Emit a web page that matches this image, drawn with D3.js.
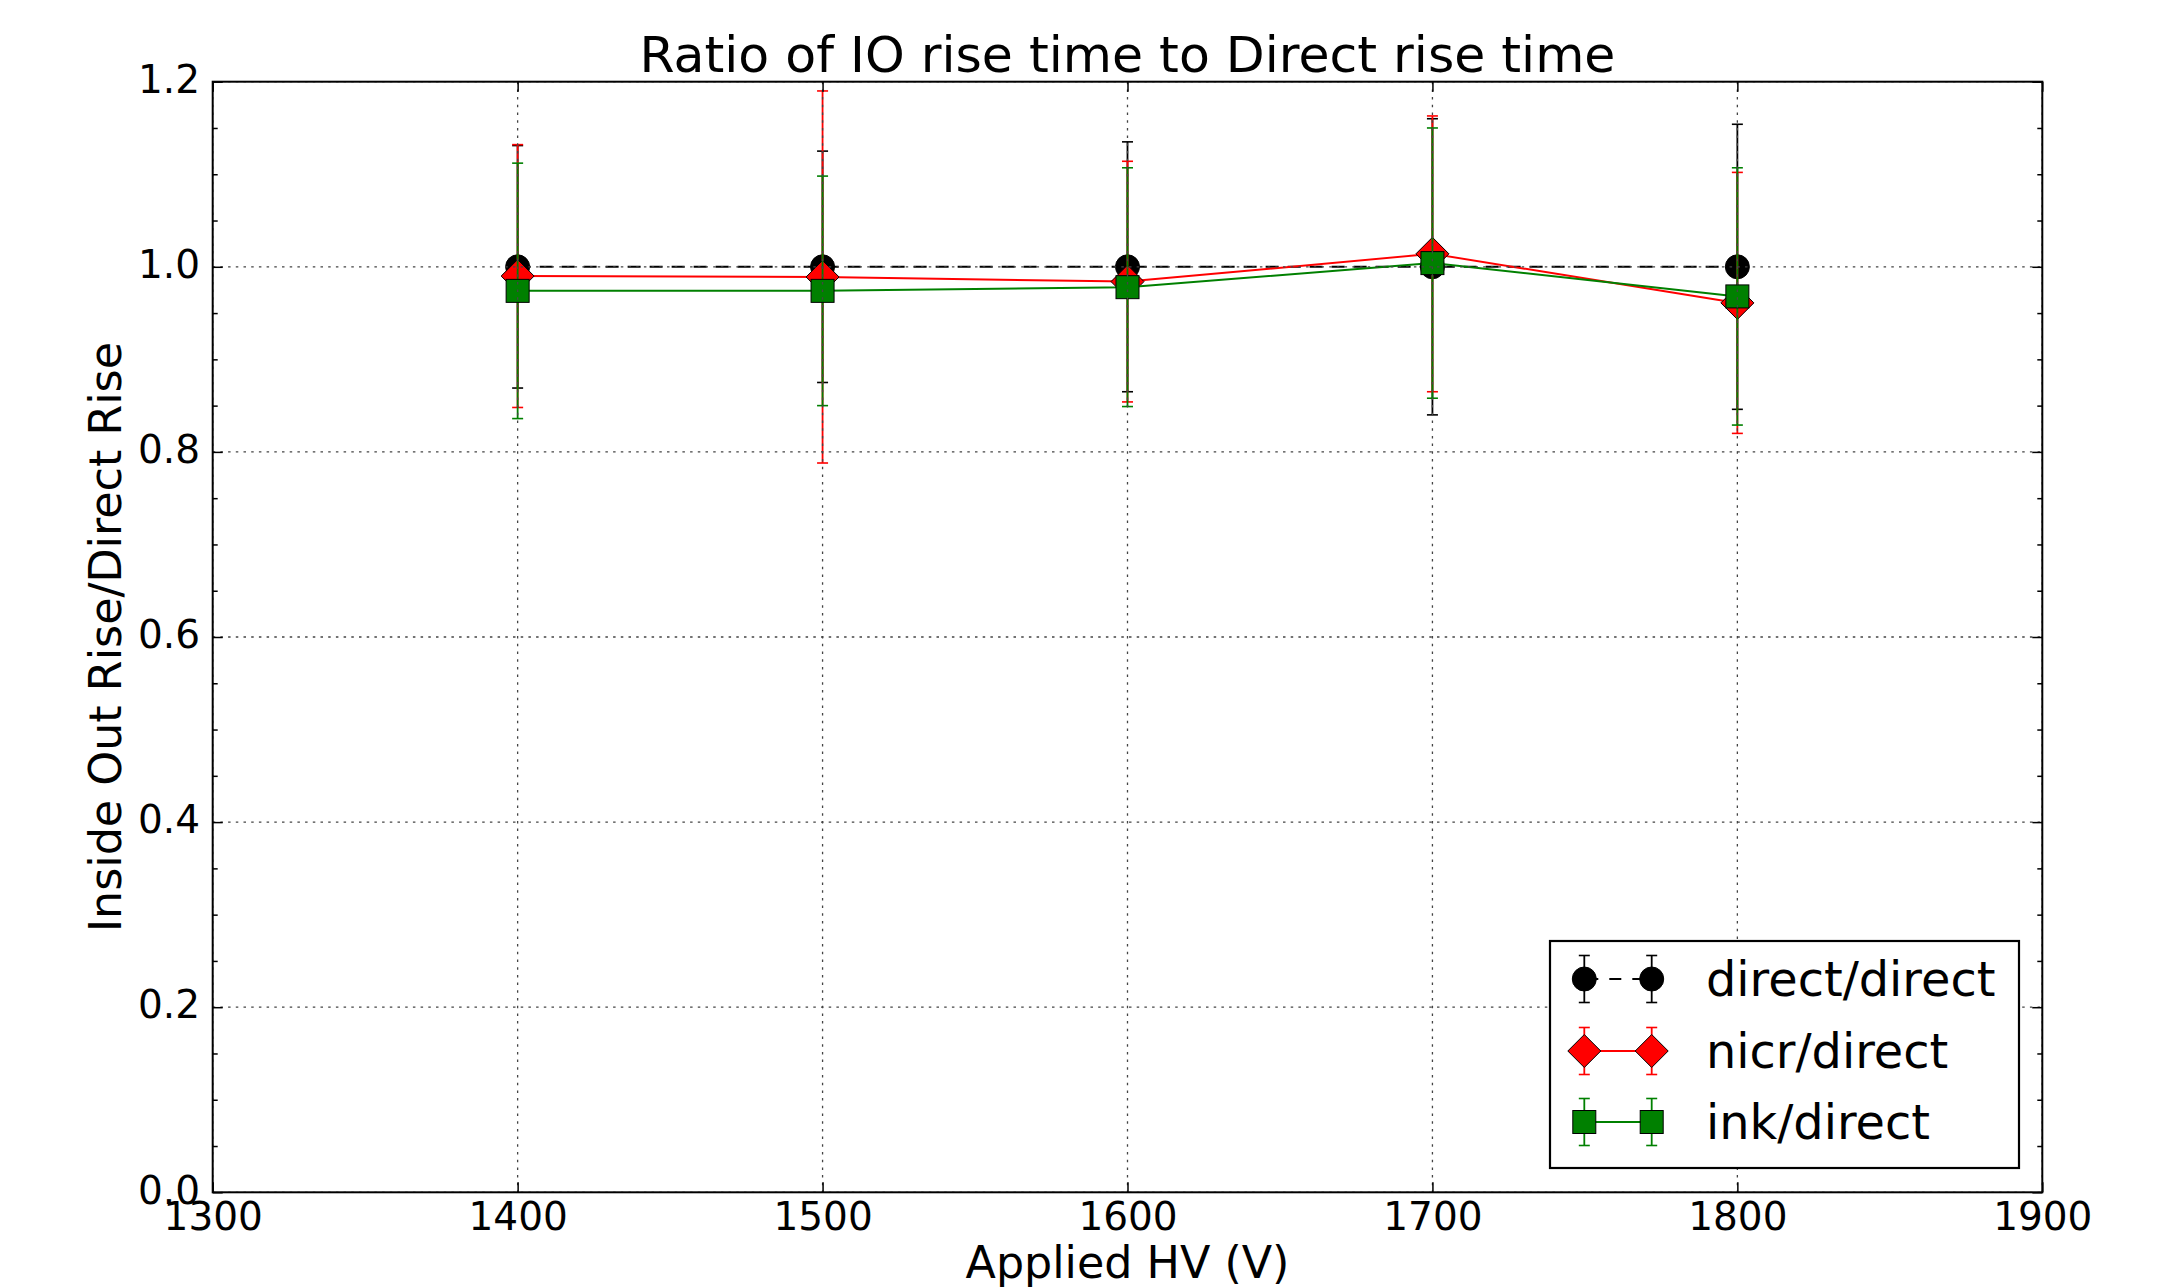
<!DOCTYPE html>
<html>
<head>
<meta charset="utf-8">
<script src="https://cdn.jsdelivr.net/npm/d3@7/dist/d3.min.js"></script>
<style>
  html, body { margin: 0; padding: 0; background: #fff; }
  svg { display: block; font-family: "DejaVu Sans", sans-serif; }
</style>
</head>
<body>
<svg id="chart" width="2159" height="1288"></svg>
<script>
// ---- data ----
const voltages = [1400, 1500, 1600, 1700, 1800];
const directVals = [1.0, 1.0, 1.0, 1.0, 1.0];
const directErr = [0.131, 0.125, 0.135, 0.160, 0.154];
const nicrVals = [0.990, 0.989, 0.984, 1.014, 0.961];
const nicrErr = [0.142, 0.201, 0.130, 0.149, 0.141];
const inkVals = [0.974, 0.974, 0.978, 1.004, 0.968];
const inkErr = [0.138, 0.124, 0.129, 0.146, 0.139];
const xTicks = [1300, 1400, 1500, 1600, 1700, 1800, 1900];
const yTicks = [0.0, 0.2, 0.4, 0.6, 0.8, 1.0, 1.2];
const seriesNames = ["direct/direct", "nicr/direct", "ink/direct"];

const series = [
  {name: seriesNames[0], vals: directVals, err: directErr, color: "#000000", marker: "circle", dash: "13,9"},
  {name: seriesNames[1], vals: nicrVals, err: nicrErr, color: "#ff0000", marker: "diamond", dash: null},
  {name: seriesNames[2], vals: inkVals, err: inkErr, color: "#008000", marker: "square", dash: null}
];

const L = 212.7, R = 2042.3, T = 81.7, B = 1192.3;
const svg = d3.select("#chart");
const x = d3.scaleLinear().domain([1300, 1900]).range([L, R]);
const y = d3.scaleLinear().domain([0, 1.2]).range([B, T]);

// markers
function drawMarker(g, type, cx, cy, fill) {
  if (type === "circle") {
    g.append("circle").attr("cx", cx).attr("cy", cy).attr("r", 12)
      .attr("fill", fill).attr("stroke", "#000").attr("stroke-width", 1);
  } else if (type === "diamond") {
    const h = 16.5;
    g.append("path").attr("d", `M${cx},${cy-h}L${cx+h},${cy}L${cx},${cy+h}L${cx-h},${cy}Z`)
      .attr("fill", fill).attr("stroke", "#000").attr("stroke-width", 1);
  } else {
    const s = 11.5;
    g.append("rect").attr("x", cx - s).attr("y", cy - s).attr("width", 2*s).attr("height", 2*s)
      .attr("fill", fill).attr("stroke", "#000").attr("stroke-width", 1);
  }
}

const dataG = svg.append("g");
series.forEach(s => {
  const g = dataG.append("g");
  // error bars
  voltages.forEach((v, i) => {
    const cx = x(v), y1 = y(s.vals[i] + s.err[i]), y0 = y(s.vals[i] - s.err[i]);
    g.append("line").attr("x1", cx).attr("x2", cx).attr("y1", y1).attr("y2", y0)
      .attr("stroke", s.color).attr("stroke-width", 1.8);
    [y1, y0].forEach(yy => g.append("line").attr("x1", cx - 5.5).attr("x2", cx + 5.5)
      .attr("y1", yy).attr("y2", yy).attr("stroke", s.color).attr("stroke-width", 1.6));
  });
  // line
  const line = d3.line().x((d, i) => x(voltages[i])).y(d => y(d));
  g.append("path").attr("d", line(s.vals)).attr("fill", "none")
    .attr("stroke", s.color).attr("stroke-width", 2)
    .attr("stroke-dasharray", s.dash);
  voltages.forEach((v, i) => drawMarker(g, s.marker, x(v), y(s.vals[i]), s.color));
});

// grid (drawn above data, classic style)
const gridG = svg.append("g");
xTicks.forEach(t => gridG.append("line").attr("x1", x(t)).attr("x2", x(t)).attr("y1", T).attr("y2", B)
  .attr("stroke", "#444").attr("stroke-width", 1.3).attr("stroke-dasharray", "2.5,5.2"));
yTicks.forEach(t => gridG.append("line").attr("x1", L).attr("x2", R).attr("y1", y(t)).attr("y2", y(t))
  .attr("stroke", "#444").attr("stroke-width", 1.3).attr("stroke-dasharray", "2.5,5.2"));

// axes
const fmtY = d3.format(".1f");
const axB = svg.append("g").attr("transform", `translate(0,${B})`)
  .call(d3.axisBottom(x).tickValues(xTicks).tickFormat(d3.format("d")).tickSizeInner(-10).tickSizeOuter(0).tickPadding(0));
const axT = svg.append("g").attr("transform", `translate(0,${T})`)
  .call(d3.axisTop(x).tickValues(xTicks).tickFormat("").tickSizeInner(-10).tickSizeOuter(0));
const axLeft = svg.append("g").attr("transform", `translate(${L},0)`)
  .call(d3.axisLeft(y).tickValues(yTicks).tickFormat(fmtY).tickSizeInner(-10).tickSizeOuter(0).tickPadding(0));
const axRight = svg.append("g").attr("transform", `translate(${R},0)`)
  .call(d3.axisRight(y).tickValues(yTicks).tickFormat("").tickSizeInner(-10).tickSizeOuter(0));
const minorY = d3.range(0, 1.2001, 0.05).filter(v => Math.abs(Math.round(v * 5) - v * 5) > 1e-6);
svg.append("g").attr("transform", `translate(${L},0)`)
  .call(d3.axisLeft(y).tickValues(minorY).tickFormat("").tickSizeInner(-5).tickSizeOuter(0));
svg.append("g").attr("transform", `translate(${R},0)`)
  .call(d3.axisRight(y).tickValues(minorY).tickFormat("").tickSizeInner(-5).tickSizeOuter(0));

svg.selectAll(".domain").remove();
svg.selectAll(".tick line").attr("stroke", "#000").attr("stroke-width", 1.5);
axB.selectAll(".tick text").attr("font-size", 39).attr("fill", "#000")
  .attr("font-family", "DejaVu Sans").attr("dy", null).attr("y", 38);
axLeft.selectAll(".tick text").attr("font-size", 39).attr("fill", "#000")
  .attr("font-family", "DejaVu Sans").attr("dy", null).attr("x", -12.7).attr("y", 10.7);

// frame
svg.append("rect").attr("x", L).attr("y", T).attr("width", R - L).attr("height", B - T)
  .attr("fill", "none").attr("stroke", "#000").attr("stroke-width", 2);

// title & labels
svg.append("text").attr("x", (L + R) / 2).attr("y", 72.3).attr("text-anchor", "middle")
  .attr("font-size", 50.5).text("Ratio of IO rise time to Direct rise time");
svg.append("text").attr("x", (L + R) / 2).attr("y", 1278).attr("text-anchor", "middle")
  .attr("font-size", 44.4).text("Applied HV (V)");
svg.append("text").attr("transform", `translate(121,${(T + B) / 2}) rotate(-90)`).attr("text-anchor", "middle")
  .attr("font-size", 44.4).text("Inside Out Rise/Direct Rise");

// legend
const lg = svg.append("g");
lg.append("rect").attr("x", 1550).attr("y", 941).attr("width", 469).attr("height", 227)
  .attr("fill", "#fff").attr("stroke", "#000").attr("stroke-width", 2.2);
const rowY = [979, 1051, 1122];
const hx0 = 1584.3, hx1 = 1651.7;
series.forEach((s, i) => {
  const cy = rowY[i];
  lg.append("line").attr("x1", hx0).attr("x2", hx1).attr("y1", cy).attr("y2", cy)
    .attr("stroke", s.color).attr("stroke-width", 2).attr("stroke-dasharray", s.dash ? "12,11" : null)
    .attr("stroke-dashoffset", s.dash ? -2 : null);
  [hx0, hx1].forEach(hx => {
    lg.append("line").attr("x1", hx).attr("x2", hx).attr("y1", cy - 23.5).attr("y2", cy + 23.5)
      .attr("stroke", s.color).attr("stroke-width", 1.8);
    [cy - 23.5, cy + 23.5].forEach(yy => lg.append("line").attr("x1", hx - 5.5).attr("x2", hx + 5.5)
      .attr("y1", yy).attr("y2", yy).attr("stroke", s.color).attr("stroke-width", 1.6));
    drawMarker(lg, s.marker, hx, cy, s.color);
  });
  lg.append("text").attr("x", 1706).attr("y", cy + 16.5).attr("font-size", 47.8).text(s.name);
});
</script>
</body>
</html>
